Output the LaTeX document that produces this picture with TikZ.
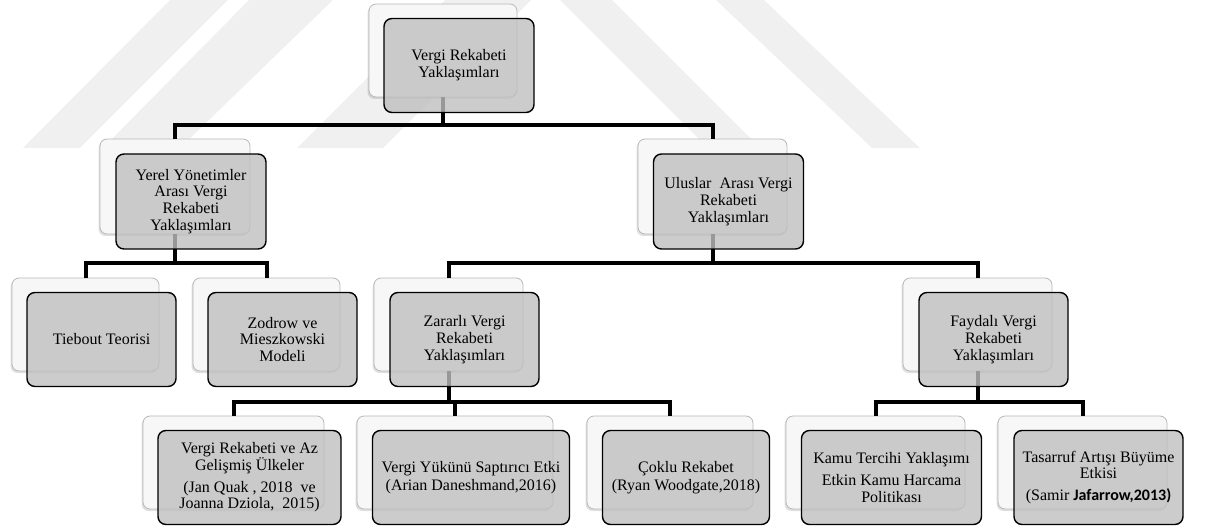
\documentclass[tikz,border=0pt]{standalone}
\usepackage{fontspec}
\setmainfont{Liberation Serif}
\newfontfamily\calibrifont{Carlito}
\usetikzlibrary{shadows}
\tikzset{
  backbox/.style={draw=black!28, line width=0.8pt, fill=black!3, rounded corners=7pt,
    inner sep=0pt, outer sep=0pt,
    drop shadow={shadow xshift=-1.5pt, shadow yshift=-2pt, opacity=0.25}},
  frontbox/.style={draw=black, line width=1.4pt, fill=black!25, fill opacity=0.8,
    text opacity=1, rounded corners=8pt, inner sep=0pt, outer sep=0pt, align=center,
    font=\fontsize{16}{16.7}\selectfont},
  conn/.style={line width=4pt, draw=black},
  wm/.style={fill=black!6, draw=none}
}
\newcommand\backnode[4]{\node[backbox, minimum width=#3pt, minimum height=#4pt] (#1B) at (#2) {};}
\newcommand\frontnode[4]{\node[frontbox, minimum width=#2pt, minimum height=#3pt] (#1) at ([shift={(16,15)}]#1B.center) {#4};}
\begin{document}
\begin{tikzpicture}[x=1pt,y=-1pt]
\useasboundingbox (0,0) rectangle (1205,529);
% watermark
\fill[wm] (170,0) -- (228,0) -- (80,148) -- (23,148) -- cycle;
\fill[wm] (249,0) -- (333,0) -- (180,148) -- (103,148) -- cycle;
\fill[wm] (445,0) -- (531,0) -- (383,148) -- (297,148) -- cycle;
\fill[wm] (560,0) -- (612,0) -- (760,148) -- (708,148) -- cycle;
\fill[wm] (716,0) -- (764,0) -- (920,148) -- (872,148) -- cycle;
% bar levels
\coordinate (bar1) at (0,125);
\coordinate (bar2) at (0,263);
\coordinate (bar3) at (0,402);
% back boxes
\backnode{top}{443,50.5}{148}{93}
\backnode{yerel}{175,186.5}{150}{95}
\backnode{uluslar}{712.5,186.5}{149}{95}
\backnode{tiebout}{85.5,324.5}{147}{93}
\backnode{zodrow}{266.5,324.5}{147}{93}
\backnode{zararli}{448.5,324.5}{149}{93}
\backnode{faydali}{977.5,324.5}{149}{93}
\backnode{jan}{233.5,462.5}{181}{93}
\backnode{yuk}{455,462.5}{196}{93}
\backnode{coklu}{670,462.5}{166}{93}
\backnode{kamu}{875.5,462.5}{179}{93}
\backnode{tas}{1082.5,462.5}{169}{93}
% connectors
\draw[conn] (topB.south) -- (topB.south |- bar1);
\draw[conn] (yerelB.north) |- (uluslarB.north |- bar1) -- (uluslarB.north);
\draw[conn] (yerelB.south) -- (yerelB.south |- bar2);
\draw[conn] (tieboutB.north) |- (zodrowB.north |- bar2) -- (zodrowB.north);
\draw[conn] (uluslarB.south) -- (uluslarB.south |- bar2);
\draw[conn] (zararliB.north) |- (faydaliB.north |- bar2) -- (faydaliB.north);
\draw[conn] (zararliB.south) -- (zararliB.south |- bar3);
\draw[conn] (janB.north) |- (cokluB.north |- bar3) -- (cokluB.north);
\draw[conn] (yukB.north) -- (yukB.north |- bar3);
\draw[conn] (faydaliB.south) -- (faydaliB.south |- bar3);
\draw[conn] (kamuB.north) |- (tasB.north |- bar3) -- (tasB.north);
% front boxes
\frontnode{top}{150}{94}{Vergi Rekabeti\\Yaklaşımları}
\frontnode{yerel}{150}{95}{Yerel Yönetimler\\Arası Vergi\\Rekabeti\\Yaklaşımları}
\frontnode{uluslar}{150}{95}{Uluslar\ \ Arası Vergi\\Rekabeti\\Yaklaşımları}
\frontnode{tiebout}{149}{94}{Tiebout Teorisi}
\frontnode{zodrow}{149}{94}{Zodrow ve\\Mieszkowski\\Modeli}
\frontnode{zararli}{149}{94}{Zararlı Vergi\\Rekabeti\\Yaklaşımları}
\frontnode{faydali}{149}{94}{Faydalı Vergi\\Rekabeti\\Yaklaşımları}
\frontnode{jan}{183}{94}{Vergi Rekabeti ve Az\\Gelişmiş Ülkeler\\[5pt](Jan Quak , 2018\ \ ve\\Joanna Dziola,\ \ 2015)}
\frontnode{yuk}{197}{94}{Vergi Yükünü Saptırıcı Etki\\[1pt](Arian Daneshmand,2016)}
\frontnode{coklu}{167}{94}{Çoklu Rekabet\\[1pt](Ryan Woodgate,2018)}
\frontnode{kamu}{180}{94}{Kamu Tercihi Yaklaşımı\\[5pt]Etkin Kamu Harcama\\Politikası}
\frontnode{tas}{169}{94}{Tasarruf Artışı Büyüme\\Etkisi\\[5pt](Samir {\calibrifont\bfseries Jafarrow,2013)}}
\end{tikzpicture}
\end{document}
